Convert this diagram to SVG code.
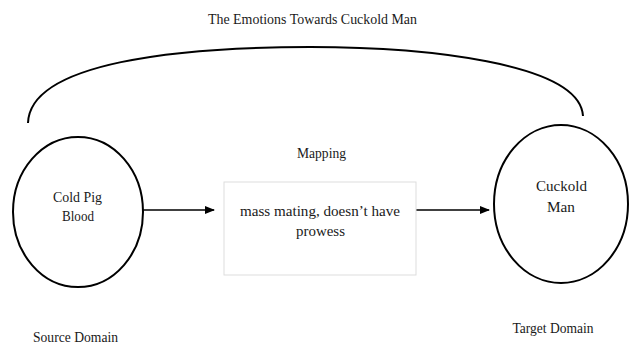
<svg xmlns="http://www.w3.org/2000/svg" width="630" height="345" viewBox="0 0 630 345">
  <defs>
    <marker id="arrow" markerWidth="10" markerHeight="8" refX="9" refY="4" orient="auto" markerUnits="userSpaceOnUse">
      <path d="M0,0 L10,4 L0,8 Z" fill="#000"/>
    </marker>
    <style>
      text { font-family: "Liberation Serif", "Times New Roman", "DejaVu Serif", serif; font-size: 15px; fill: #1a1a1a; text-anchor: middle; }
      .domain { fill: none; stroke: #000; stroke-width: 2; }
      .link { fill: none; stroke: #000; stroke-width: 1.3; }
    </style>
  </defs>
  <rect width="630" height="345" fill="#fff"/>

  <text x="312.5" y="24" textLength="209" lengthAdjust="spacingAndGlyphs" font-family="Liberation Serif, serif">The Emotions Towards Cuckold Man</text>

  <g id="connectors">
    <path class="domain" d="M28,123 C30,62 180,47 310,47 C420,47 580,62 583,116"/>
    <line class="link" x1="143" y1="210" x2="214" y2="210" marker-end="url(#arrow)"/>
    <line class="link" x1="416" y1="210" x2="489" y2="210" marker-end="url(#arrow)"/>
  </g>

  <g id="source" font-family="Liberation Serif, serif">
    <ellipse class="domain" cx="78" cy="212" rx="65" ry="75"/>
    <text x="77.5" y="202" textLength="49" lengthAdjust="spacingAndGlyphs">Cold Pig</text>
    <text x="78" y="221" textLength="32" lengthAdjust="spacingAndGlyphs">Blood</text>
    <text x="75.5" y="342" textLength="85" lengthAdjust="spacingAndGlyphs">Source Domain</text>
  </g>

  <g id="mapping" font-family="Liberation Serif, serif">
    <text x="321.5" y="158" textLength="49" lengthAdjust="spacingAndGlyphs">Mapping</text>
    <rect x="224" y="182" width="192" height="93" fill="#fff" stroke="#ddd" stroke-width="1"/>
    <text x="320" y="216" textLength="160" lengthAdjust="spacingAndGlyphs">mass mating, doesn’t have</text>
    <text x="320.5" y="236" textLength="49" lengthAdjust="spacingAndGlyphs">prowess</text>
  </g>

  <g id="target" font-family="Liberation Serif, serif">
    <ellipse class="domain" cx="561" cy="204" rx="67" ry="79"/>
    <text x="561.5" y="191" textLength="51" lengthAdjust="spacingAndGlyphs">Cuckold</text>
    <text x="561" y="212" textLength="28" lengthAdjust="spacingAndGlyphs">Man</text>
    <text x="553" y="333" textLength="81" lengthAdjust="spacingAndGlyphs">Target Domain</text>
  </g>
</svg>
